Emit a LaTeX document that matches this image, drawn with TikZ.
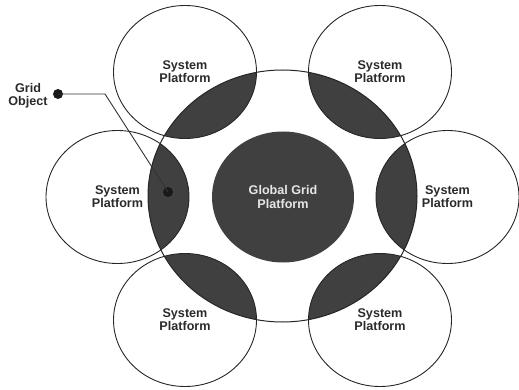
\documentclass[tikz,border=0pt]{standalone}
\usepackage{fontspec}
\setmainfont{Liberation Sans}
\usetikzlibrary{shapes.geometric}
\definecolor{lensgray}{HTML}{404040}
\definecolor{txtgray}{HTML}{2A2A2A}
\definecolor{lighttxt}{HTML}{E6E6E6}
\begin{document}
\begin{tikzpicture}[x=1pt,y=-1pt,
  plat/.style={ellipse, draw=black!85, line width=0.9pt, minimum width=143pt, minimum height=133pt,
    inner sep=0pt, align=center, font=\bfseries\fontsize{12.6}{13}\selectfont, text=txtgray},
  global/.style={ellipse, draw=black!85, line width=1pt, minimum width=269pt, minimum height=252pt, inner sep=0pt},
  core/.style={ellipse, fill=lensgray, minimum width=142pt, minimum height=131pt, inner sep=0pt,
    align=center, font=\bfseries\fontsize{12.6}{13.5}\selectfont, text=lighttxt},
  label/.style={align=center, font=\bfseries\fontsize{12.6}{12.8}\selectfont, text=txtgray},
  dot/.style={circle, fill=black!90, minimum size=10pt, inner sep=0pt},
  leader/.style={draw=black!80, line width=0.9pt}]
\useasboundingbox (0,0) rectangle (519,390);
% lenses
\foreach \cx/\cy in {185/72, 380/72, 117.5/197, 447.5/197, 185/320, 380/320} {
  \begin{scope}
    \clip (282.5,196) ellipse [x radius=134.5pt, y radius=126pt];
    \fill[lensgray] (\cx,\cy) ellipse [x radius=71.5pt, y radius=66.5pt];
  \end{scope}
}
\node[global] (G) at (282.5,196) {};
\node[core] (core) at (283,197) {Global Grid\\Platform};
\node[plat] (p1) at (185,72) {System\\Platform};
\node[plat] (p2) at (380,72) {System\\Platform};
\node[plat] (p3) at (117.5,197) {System\\Platform};
\node[plat] (p4) at (447.5,197) {System\\Platform};
\node[plat] (p5) at (185,320) {System\\Platform};
\node[plat] (p6) at (380,320) {System\\Platform};
% grid object
\node[label] (lbl) at (28,96) {Grid\\Object};
\node[dot] (d1) at (58,94) {};
\node[dot] (d2) at (168,192) {};
\coordinate (bend) at (105,94);
\draw[leader] (d1.center) -- (bend) -- (d2.center);
\end{tikzpicture}
\end{document}
